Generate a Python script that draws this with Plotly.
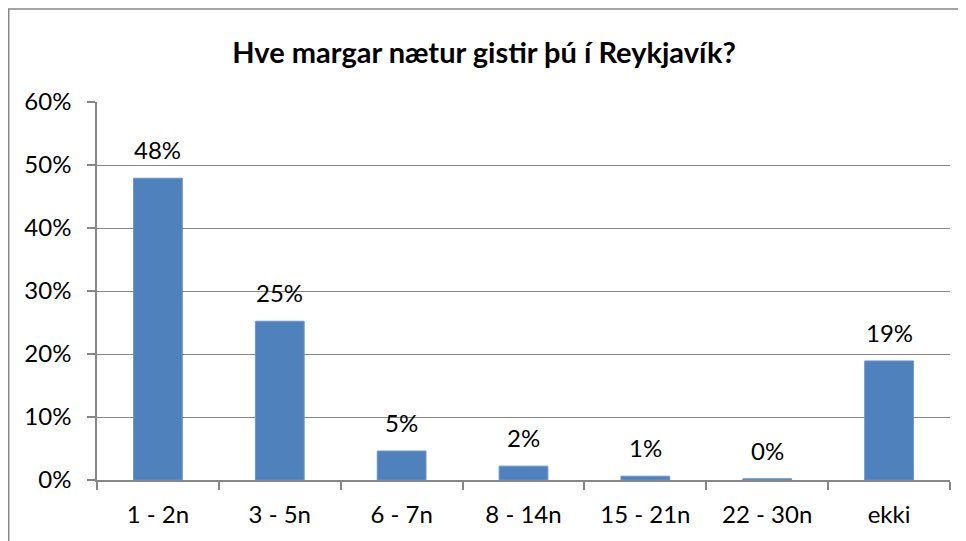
import plotly.graph_objects as go

categories = ["1 - 2n", "3 - 5n", "6 - 7n", "8 - 14n", "15 - 21n", "22 - 30n", "ekki"]
values = [0.479, 0.252, 0.046, 0.022, 0.006, 0.002, 0.189]
labels = ["48%", "25%", "5%", "2%", "1%", "0%", "19%"]
y_ticks = [0, 0.1, 0.2, 0.3, 0.4, 0.5, 0.6]
y_ticktext = ["0%", "10%", "20%", "30%", "40%", "50%", "60%"]
title = "Hve margar nætur gistir þú í Reykjavík?"

FONT = "Lato"
AXIS = "#868686"

fig = go.Figure()
fig.add_trace(go.Bar(
    x=categories, y=values,
    marker=dict(color="#4F81BD", line=dict(color="#6A95C8", width=1)),
    hoverinfo="skip",
))

for c, v, t in zip(categories, values, labels):
    fig.add_annotation(x=c, y=v, text=t, showarrow=False, yanchor="bottom",
                       yshift=12, font=dict(family=FONT, size=24, color="black"))

fig.update_layout(
    width=958, height=533,
    margin=dict(l=89, r=16, t=94, b=61),
    paper_bgcolor="white", plot_bgcolor="white",
    bargap=0.6, showlegend=False,
    title=dict(text="<b>" + title + "</b>", x=0.497, xanchor="center",
               y=0.916, yanchor="middle",
               font=dict(family=FONT, size=29, color="black")),
    font=dict(family=FONT, size=24, color="black"),
    xaxis=dict(type="category", showline=True, linecolor=AXIS, linewidth=1.5,
               ticks="outside", tickson="boundaries", ticklen=8, tickcolor=AXIS,
               tickwidth=1.5, showgrid=False, ticklabelstandoff=12,
               tickfont=dict(family=FONT, size=24, color="black")),
    yaxis=dict(range=[0, 0.6], tickvals=y_ticks, ticktext=y_ticktext,
               showline=True, linecolor=AXIS, linewidth=1.5,
               ticks="outside", ticklen=8, tickcolor=AXIS, tickwidth=1.5,
               ticklabelstandoff=11,
               showgrid=True, gridcolor=AXIS, gridwidth=1.2, zeroline=False,
               tickfont=dict(family=FONT, size=24, color="black")),
    shapes=[dict(type="rect", xref="paper", yref="paper",
                 x0=-0.1035, x1=1.05, y0=-0.2, y1=1.246,
                 line=dict(color="#868686", width=1.5), fillcolor="rgba(0,0,0,0)",
                 layer="below")],
)

fig.write_html("out.html")
